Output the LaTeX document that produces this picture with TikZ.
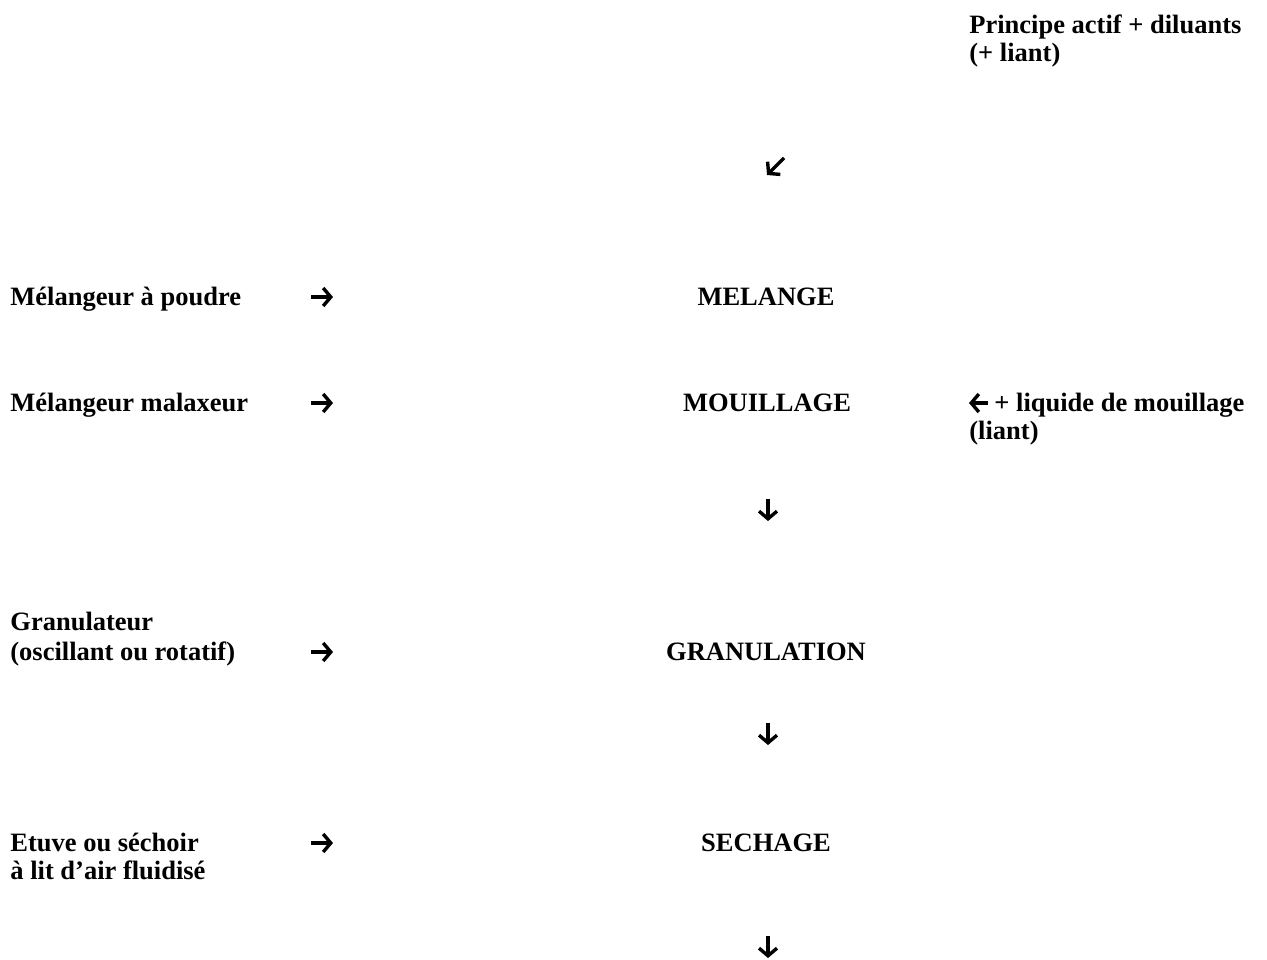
\documentclass[tikz,border=0pt]{standalone}
\usepackage{fontspec}
\setmainfont{Liberation Serif}
\usetikzlibrary{arrows.meta}
\begin{document}
\begin{tikzpicture}[x=0.5pt,y=-0.5pt,
  txt/.style={inner sep=0pt,anchor=base west,font=\fontsize{13.25}{14}\selectfont\bfseries,align=left},
  ctr/.style={inner sep=0pt,anchor=base,font=\fontsize{13.25}{14}\selectfont\bfseries},
  glyph/.style={line width=1.7pt,-{Straight Barb[length=3.8pt,width=9pt,line width=1.7pt]}}]
\useasboundingbox[fill=white] (0,0) rectangle (1267,959);
% right column
\node[txt] (pa) at (969,33) {Principe actif + diluants};
\node[txt] (pb) at (969,61) {(+ liant)};
% left column
\node[txt] (m1) at (10,305) {Mélangeur à poudre};
\node[txt] (m2) at (10,411) {Mélangeur malaxeur};
\node[txt] (g1) at (10,630) {Granulateur};
\node[txt] (g2) at (10,660) {(oscillant ou rotatif)};
\node[txt] (e1) at (10,851) {Etuve ou séchoir};
\node[txt] (e2) at (10,879) {à lit d’air fluidisé};
% centre column
\node[ctr] (mel) at (766,305) {MELANGE};
\node[ctr] (mou) at (767,411) {MOUILLAGE};
\node[ctr] (gra) at (766,660) {GRANULATION};
\node[ctr] (sec) at (766,851) {SECHAGE};
% liquid
\node[txt] (liq) at (994,411) {+ liquide de mouillage};
\node[txt] (lia) at (969,439) {(liant)};
% glyph arrows
\draw[glyph] (784,158) -- (767,175);
\draw[glyph] (311,297) -- (333,297);
\draw[glyph] (311,403) -- (333,403);
\draw[glyph] (311,652) -- (333,652);
\draw[glyph] (311,843) -- (333,843);
\draw[glyph] (988,403) -- (969,403);
\draw[glyph] (768,499) -- (768,521);
\draw[glyph] (768,723) -- (768,745);
\draw[glyph] (768,936) -- (768,958);
\end{tikzpicture}
\end{document}
